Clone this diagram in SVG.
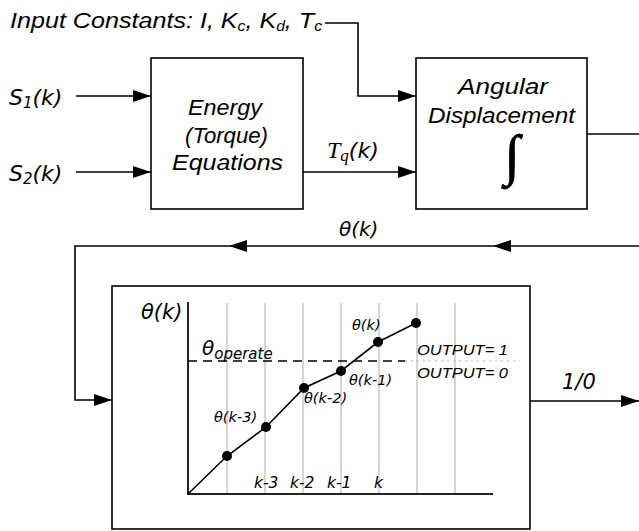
<svg xmlns="http://www.w3.org/2000/svg" width="639" height="531" viewBox="0 0 639 531">
<style>
.ln{fill:none;stroke:#000;stroke-width:1.6}
.box{fill:#fff;stroke:#000;stroke-width:1.6}
.grid{stroke:#c8c8c8;stroke-width:1.5}
.ax{fill:none;stroke:#222;stroke-width:2}
.ar{fill:#000}
.a{font-family:"Liberation Sans",Arial,sans-serif;font-style:italic;fill:#000}
.v{font-family:"DejaVu Sans",Verdana,sans-serif;font-style:oblique;fill:#000}
.s{font-family:"Liberation Serif","Times New Roman",serif;font-style:italic;fill:#000}
.dot{fill:#000}
</style>
<defs>
<marker id="ah" markerWidth="18" markerHeight="12" refX="18" refY="6" orient="auto" markerUnits="userSpaceOnUse">
<path d="M0,0 L18,6 L0,12 Z" fill="#000"/>
</marker>
</defs>

<g id="input-label">
<text class="a" x="10" y="28" font-size="22.5" textLength="312" lengthAdjust="spacingAndGlyphs">Input Constants: I, K<tspan font-size="14" dy="3">c</tspan><tspan dy="-3">, K</tspan><tspan font-size="14" dy="3">d</tspan><tspan dy="-3">, T</tspan><tspan font-size="14" dy="3">c</tspan></text>
</g>

<g id="s1-label"><text class="v" x="9" y="105" font-size="22">S<tspan font-size="15" dy="3">1</tspan><tspan dy="-3">(k)</tspan></text></g>
<g id="s2-label"><text class="v" x="9" y="181" font-size="22">S<tspan font-size="15" dy="3">2</tspan><tspan dy="-3">(k)</tspan></text></g>

<g id="energy">
<rect class="box" x="151" y="58" width="152" height="151"/>
<text class="a" x="188" y="115" font-size="22" textLength="74" lengthAdjust="spacingAndGlyphs">Energy</text>
<text class="a" x="185" y="143" font-size="22" textLength="83" lengthAdjust="spacingAndGlyphs">(Torque)</text>
<text class="a" x="172" y="170" font-size="22" textLength="111" lengthAdjust="spacingAndGlyphs">Equations</text>
</g>

<g id="angular">
<rect class="box" x="416" y="58" width="171" height="151"/>
<text class="a" x="458" y="94" font-size="22" textLength="90" lengthAdjust="spacingAndGlyphs">Angular</text>
<text class="a" x="428" y="123" font-size="22" textLength="147" lengthAdjust="spacingAndGlyphs">Displacement</text>
<text class="s" x="512" y="174" font-size="56" text-anchor="middle" stroke="#000" stroke-width="0.8">∫</text>
</g>

<g id="tq-label"><text x="327" y="158"><tspan class="s" font-size="24">T</tspan><tspan class="s" font-size="17" dy="3">q</tspan><tspan class="v" font-size="22" dy="-3">(k)</tspan></text></g>

<g id="theta-feedback-label"><text class="v" x="339" y="236" font-size="20">θ(k)</text></g>

<g id="comparator">
<rect class="box" x="112" y="286" width="418" height="243"/>
<g id="grid">
<line class="grid" x1="227" y1="303" x2="227" y2="494"/>
<line class="grid" x1="265" y1="303" x2="265" y2="494"/>
<line class="grid" x1="303" y1="303" x2="303" y2="494"/>
<line class="grid" x1="341" y1="303" x2="341" y2="494"/>
<line class="grid" x1="379" y1="303" x2="379" y2="494"/>
<line class="grid" x1="417" y1="303" x2="417" y2="494"/>
<line class="grid" x1="455" y1="303" x2="455" y2="494"/>
</g>
<path class="ax" d="M188,302 V494 H493"/>
<line x1="188" y1="361" x2="405" y2="361" stroke="#000" stroke-width="1.5" stroke-dasharray="9,6"/>
<line x1="405" y1="361" x2="520" y2="361" stroke="#aaa" stroke-width="1" stroke-dasharray="2,4"/>
<polyline class="ln" points="188,494 227,456 266,427 304,388 341,371 378,342 416,323"/>
<circle class="dot" cx="227" cy="456" r="5"/>
<circle class="dot" cx="266" cy="427" r="5"/>
<circle class="dot" cx="304" cy="388" r="5"/>
<circle class="dot" cx="341" cy="371" r="5"/>
<circle class="dot" cx="378" cy="342" r="5"/>
<circle class="dot" cx="416" cy="323" r="5"/>
<text class="v" x="141" y="319" font-size="21">θ(k)</text>
<text class="v" x="202" y="355" font-size="20">θ<tspan font-size="15" dy="4">operate</tspan></text>
<text class="a" x="417" y="355" font-size="15" textLength="91" lengthAdjust="spacingAndGlyphs">OUTPUT= 1</text>
<text class="a" x="417" y="378" font-size="15" textLength="91" lengthAdjust="spacingAndGlyphs">OUTPUT= 0</text>
<text class="v" x="352" y="330" font-size="14.5">θ(k)</text>
<text class="v" x="349" y="385" font-size="14.5">θ(k-1)</text>
<text class="v" x="304" y="403" font-size="14.5">θ(k-2)</text>
<text class="v" x="214" y="422" font-size="14.5">θ(k-3)</text>
<text class="v" x="254" y="488" font-size="15.5">k-3</text>
<text class="v" x="290" y="488" font-size="15.5">k-2</text>
<text class="v" x="327" y="488" font-size="15.5">k-1</text>
<text class="v" x="374" y="488" font-size="15.5">k</text>
</g>

<g id="output-label"><text class="v" x="562" y="389" font-size="21">1/0</text></g>

<g id="connectors">
<path class="ln" d="M325,23 H358 V96 H416" marker-end="url(#ah)"/>
<path class="ln" d="M76,96 H151" marker-end="url(#ah)"/>
<path class="ln" d="M76,172 H151" marker-end="url(#ah)"/>
<path class="ln" d="M303,172 H416" marker-end="url(#ah)"/>
<path class="ln" d="M587,134 H639"/>
<path class="ln" d="M639,246 H75 V400 H112" marker-end="url(#ah)"/>
<path class="ar" d="M493,246 L511,240 L511,252 Z"/>
<path class="ar" d="M229,246 L247,240 L247,252 Z"/>
<path class="ln" d="M530,401 H639" marker-end="url(#ah)"/>
</g>
</svg>
